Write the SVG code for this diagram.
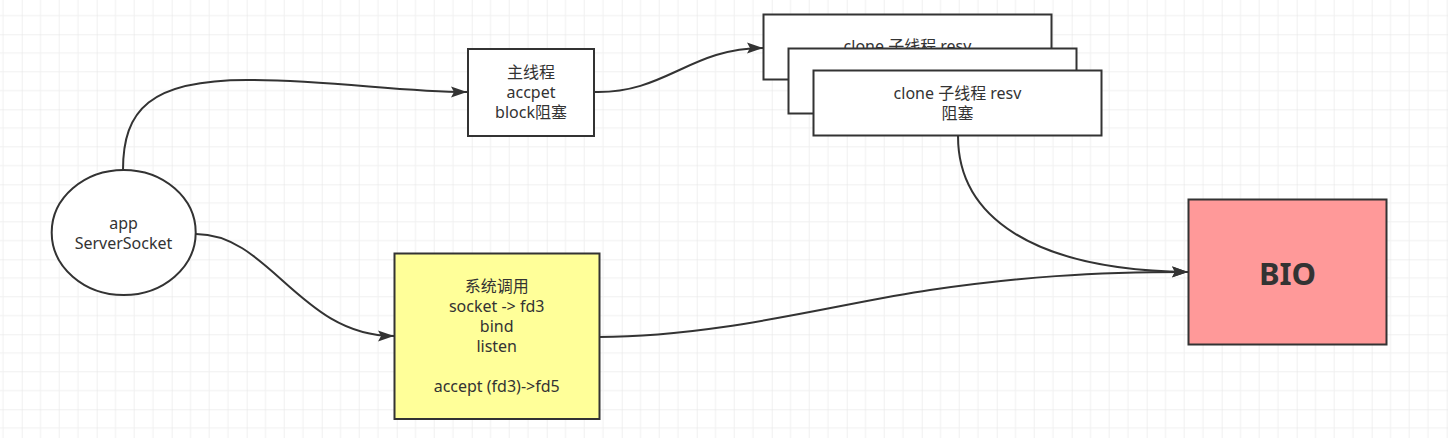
<svg xmlns="http://www.w3.org/2000/svg" width="1448" height="438" viewBox="0 0 1448 438">
<defs>
  <pattern id="grid" x="21.7" y="34.3" width="75" height="75" patternUnits="userSpaceOnUse">
    <path d="M18.75 0V75M37.5 0V75M56.25 0V75M0 18.75H75M0 37.5H75M0 56.25H75" stroke="#f0f0f0" stroke-width="1" fill="none"/>
    <path d="M0 0V75M0 0H75" stroke="#e2e2e2" stroke-width="1" fill="none"/>
  </pattern>
  <marker id="arrow" viewBox="0 0 16 12" refX="16" refY="6" markerWidth="16" markerHeight="12" markerUnits="userSpaceOnUse" orient="auto">
    <path d="M0 0.5L16 6L0 11.5L3 6Z" fill="#333333"/>
  </marker>
  <style>
    .box { stroke: #333333; stroke-width: 2; }
    .edge { fill: none; stroke: #333333; stroke-width: 2; marker-end: url(#arrow); }
    .lbl { font-family: "Noto Sans", "Noto Sans CJK SC", sans-serif; font-size: 16px; fill: #333333; text-anchor: middle; }
    .big { font-family: "Noto Sans", "Noto Sans CJK SC", sans-serif; font-size: 31px; font-weight: bold; fill: #333333; text-anchor: middle; }
  </style>
</defs>
<rect x="0" y="0" width="1448" height="438" fill="#ffffff"/>
<rect x="0" y="0" width="1448" height="438" fill="url(#grid)"/>

<g id="connectors">
  <path class="edge" d="M123,170 C123,110 150,80 247,80 C330,80 400,92 467,92"/>
  <path class="edge" d="M594,92 C665,94 690,48 763,48"/>
  <path class="edge" d="M196,234 C270,234 300,336 394,336"/>
  <path class="edge" d="M599,337 C720,337 840,303 930,290 C1020,277 1090,272 1188,272"/>
  <path class="edge" d="M958,136 C958,215 1030,270 1188,272"/>
</g>

<g id="node-app">
  <ellipse class="box" cx="123.7" cy="232.5" rx="72" ry="62.5" fill="#ffffff"/>
  <text class="lbl" x="123.5" y="229.3">app</text>
  <text class="lbl" x="123.5" y="249.3">ServerSocket</text>
</g>

<g id="node-main">
  <rect class="box" x="468" y="49" width="126" height="87" fill="#ffffff"/>
  <text class="lbl" x="531" y="78.3">主线程</text>
  <text class="lbl" x="531" y="98.3">accpet</text>
  <text class="lbl" x="531" y="118.3">block阻塞</text>
</g>

<g id="node-clone1">
  <rect class="box" x="763.5" y="14.5" width="288" height="65" fill="#ffffff"/>
  <text class="lbl" x="907.5" y="52">clone 子线程 resv</text>
</g>

<g id="node-clone2">
  <rect class="box" x="788.5" y="48.5" width="288" height="65" fill="#ffffff"/>
</g>

<g id="node-clone3">
  <rect class="box" x="813.5" y="70.5" width="288" height="65" fill="#ffffff"/>
  <text class="lbl" x="957.5" y="99.3">clone 子线程 resv</text>
  <text class="lbl" x="957.5" y="119.3">阻塞</text>
</g>

<g id="node-syscall">
  <rect class="box" x="394.5" y="253.5" width="205" height="165.5" fill="#ffff99"/>
  <text class="lbl" x="496.7" y="291.7">系统调用</text>
  <text class="lbl" x="496.7" y="311.7">socket -&gt; fd3</text>
  <text class="lbl" x="496.7" y="331.7">bind</text>
  <text class="lbl" x="496.7" y="351.7">listen</text>
  <text class="lbl" x="496.7" y="391.7">accept (fd3)-&gt;fd5</text>
</g>

<g id="node-bio">
  <rect class="box" x="1188.5" y="199.5" width="198" height="145" fill="#ff9999"/>
  <text class="big" x="1287.5" y="284.5">BIO</text>
</g>
</svg>
